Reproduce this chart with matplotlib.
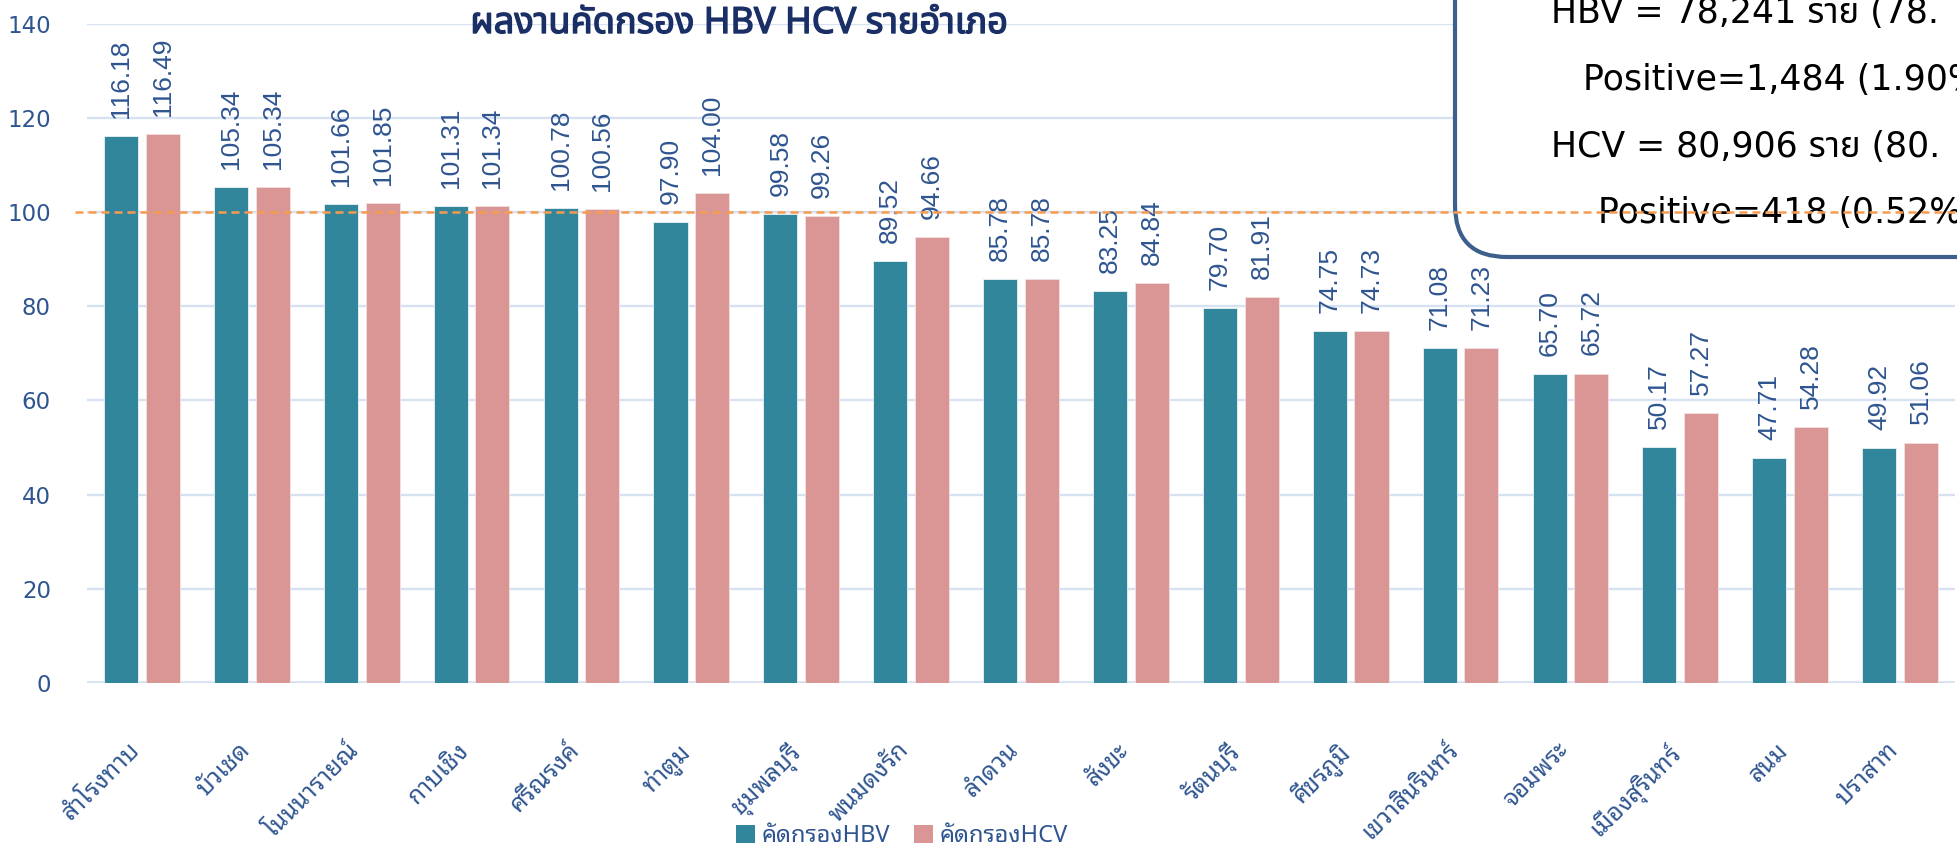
import matplotlib
matplotlib.use("Agg")
import matplotlib.pyplot as plt
from matplotlib import font_manager as fm
from matplotlib import patheffects as pe
from matplotlib import transforms as mtransforms
from matplotlib.ft2font import FT2Font
from matplotlib.patches import FancyBboxPatch, Patch
import numpy as np

districts = ['สำโรงทาบ', 'บัวเชด', 'โนนนารายณ์', 'กาบเชิง', 'ศรีณรงค์', 'ท่าตูม',
             'ชุมพลบุรี', 'พนมดงรัก', 'ลำดวน', 'สังขะ', 'รัตนบุรี', 'ศีขรภูมิ',
             'เขวาสินรินทร์', 'จอมพระ', 'เมืองสุรินทร์', 'สนม', 'ปราสาท']
hbv = [116.18, 105.34, 101.66, 101.31, 100.78, 97.90, 99.58, 89.52, 85.78,
       83.25, 79.70, 74.75, 71.08, 65.70, 50.17, 47.71, 49.92]
hcv = [116.49, 105.34, 101.85, 101.34, 100.56, 104.00, 99.26, 94.66, 85.78,
       84.84, 81.91, 74.73, 71.23, 65.72, 57.27, 54.28, 51.06]
target = 100
series_names = ['คัดกรองHBV', 'คัดกรองHCV']
title = 'ผลงานคัดกรอง HBV HCV รายอำเภอ'
summary_lines = ['HBV = 78,241 ราย (78.', 'Positive=1,484 (1.90%)',
                 'HCV = 80,906 ราย (80.', 'Positive=418 (0.52%)']

TEAL = '#31869B'
PINK = '#DA9694'
BLUE = '#2F5590'
NAVY = '#1A2F66'
GRID = '#D6E1F2'


def thai_fonts():
    # installed families that actually carry Thai glyphs
    names = []
    for f in fm.fontManager.ttflist:
        try:
            if 0x0E01 in FT2Font(f.fname).get_charmap() and f.name not in names:
                names.append(f.name)
        except Exception:
            pass
    return names


def pick(available, wanted):
    for w in wanted:
        if w in available:
            return w
    return available[0] if available else 'DejaVu Sans'


installed = {f.name for f in fm.fontManager.ttflist}
thai = thai_fonts()
thai_plain = pick(thai, ['Noto Sans Thai', 'Loma', 'Garuda', 'Umpush', 'Sarabun', 'Tlwg Typo'])
thai_looped = pick(thai, ['Noto Sans Thai Looped', 'Loma', 'Garuda', 'Kinnari', 'Norasi', 'Noto Sans Thai'])
narrow = 'Liberation Sans Narrow' if 'Liberation Sans Narrow' in installed else 'Liberation Sans'

plt.rcParams['font.family'] = [thai_plain, 'DejaVu Sans']

fig = plt.figure(figsize=(19.58, 8.48), dpi=100)
ax = fig.add_axes([87 / 1958, 165 / 848, 1868 / 1958, 659.3 / 848])

x = np.arange(len(districts))
w = 0.31
off = 0.19
b1 = ax.bar(x - off, hbv, w, color=TEAL, edgecolor='#EAF1F4', linewidth=0.6, zorder=3)
b2 = ax.bar(x + off, hcv, w, color=PINK, edgecolor='#F3E1E1', linewidth=0.6, zorder=3)

for bars, vals in ((b1, hbv), (b2, hcv)):
    for rect, v in zip(bars, vals):
        ax.annotate(f'{v:.2f}', (rect.get_x() + rect.get_width() / 2, v),
                    xytext=(0, 13), textcoords='offset points', rotation=90,
                    ha='center', va='bottom', fontsize=19, color=BLUE,
                    family=[narrow, 'DejaVu Sans'], zorder=5)

ax.set_xlim(-0.5, len(districts) - 0.5)
ax.set_ylim(0, 140)
ax.set_yticks(np.arange(0, 141, 20))
ax.yaxis.grid(True, color=GRID, linewidth=1.7, zorder=0)
ax.set_axisbelow(True)
for s in ax.spines.values():
    s.set_visible(False)
ax.axhline(0, color=GRID, linewidth=2.6, zorder=2)
ax.tick_params(axis='both', length=0)
ax.tick_params(axis='y', pad=26, labelsize=16.5, labelcolor=BLUE)
for lab in ax.get_yticklabels():
    lab.set_family(['DejaVu Sans'])

# district names, slanted, ending just left of each pair
ax.set_xticks(x)
ax.set_xticklabels(districts, rotation=45, ha='right', rotation_mode='anchor',
                   fontsize=17.5, color=BLUE, family=[thai_looped, 'DejaVu Sans'])
ax.tick_params(axis='x', pad=40)
shift = mtransforms.ScaledTranslation(-0.14, 0, fig.dpi_scale_trans)
for lab in ax.get_xticklabels():
    lab.set_transform(lab.get_transform() + shift)

# 100% target line
ax.axhline(target, xmin=-0.0065, xmax=1, color='#F79C4F', linewidth=1.8,
           dashes=(3.2, 2.0), clip_on=False, zorder=6)

# summary box in the top right corner
box = FancyBboxPatch((14.55, 5.91), 6.0, 3.5,
                     boxstyle='round,pad=0,rounding_size=0.52',
                     transform=fig.dpi_scale_trans, facecolor='white',
                     edgecolor='#3D5F8C', linewidth=3.0, clip_on=False, zorder=4)
ax.add_patch(box)
starts = [15.51, 15.83, 15.51, 15.98]
baselines = [8.25, 7.58, 6.91, 6.25]
for s, xs, yb in zip(summary_lines, starts, baselines):
    ax.text(xs, yb, s, transform=fig.dpi_scale_trans, fontsize=25,
            family=['DejaVu Sans', thai_plain], color='black',
            ha='left', va='baseline', clip_on=False, zorder=5)

fig.text(739 / 1958, 1 - 24 / 848, title, ha='center', va='center',
         fontsize=26, fontweight='bold', color=NAVY,
         path_effects=[pe.withStroke(linewidth=1.0, foreground=NAVY)])

handles = [Patch(facecolor=TEAL), Patch(facecolor=PINK)]
fig.legend(handles, series_names, loc='center', bbox_to_anchor=(902 / 1958, 1 - 836 / 848),
           ncol=2, frameon=False, handlelength=0.8, handleheight=0.8,
           handletextpad=0.3, columnspacing=1.0, borderpad=0.1,
           prop={'family': [thai_looped, 'DejaVu Sans'], 'size': 17},
           labelcolor=BLUE)

fig.savefig('out.png', dpi=100)
